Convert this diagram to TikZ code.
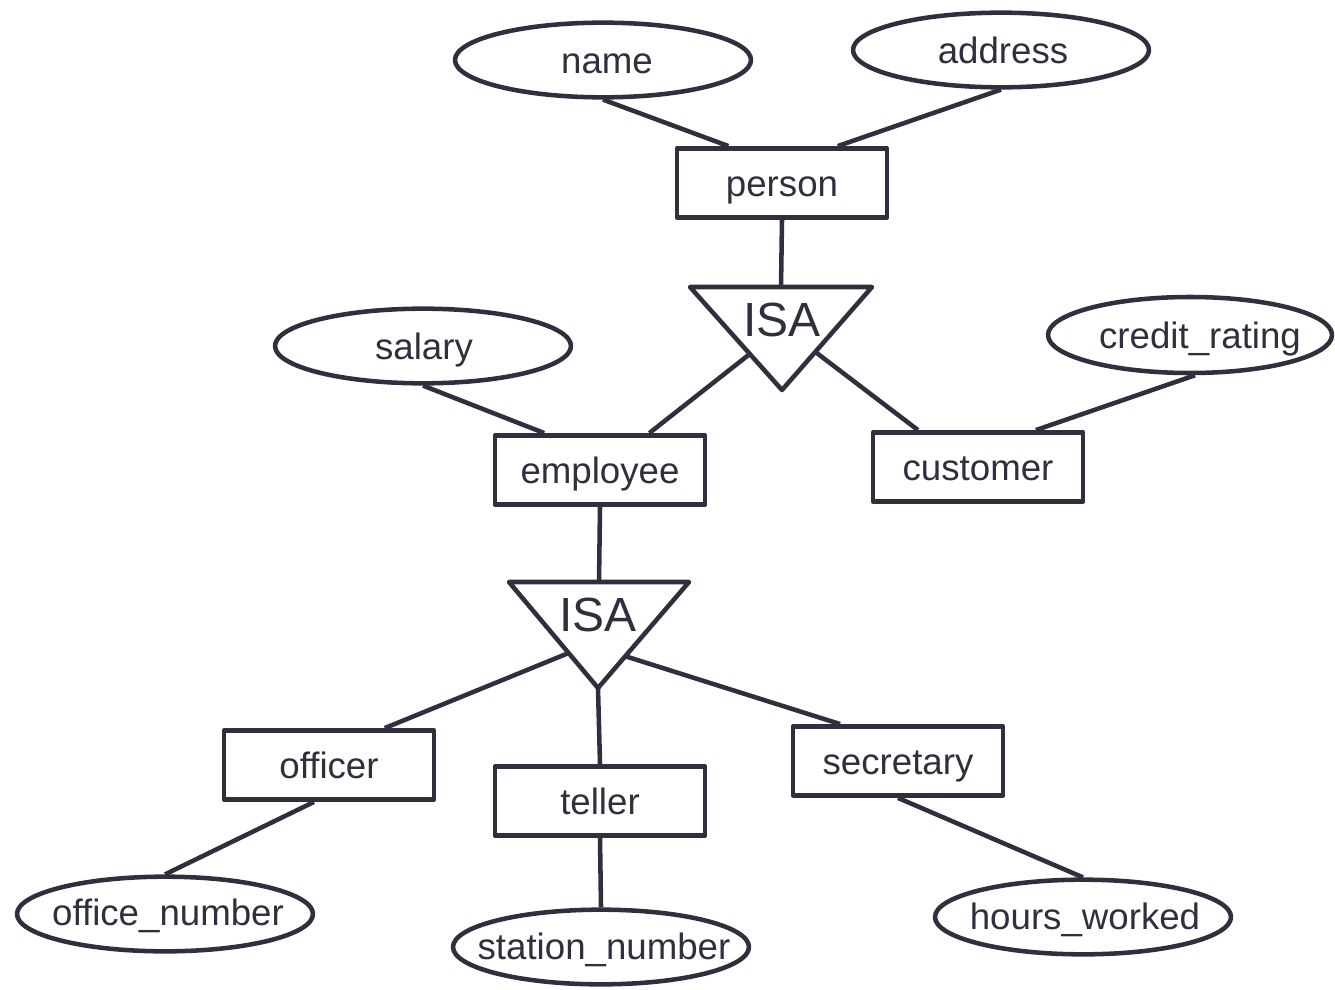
\documentclass[tikz,border=0pt]{standalone}
\usepackage{fontspec}
\setmainfont{Liberation Sans}
\usetikzlibrary{shapes.geometric,calc}
\definecolor{ink}{HTML}{2E303D}
\begin{document}
\begin{tikzpicture}[x=0.75pt,y=-0.75pt,
  line join=round,
  lbl/.style={text=ink,font=\fontsize{27.5}{33}\selectfont,inner sep=0pt,text height=19.7pt,text depth=0pt},
  ent/.style={draw=ink,line width=3.4pt,rectangle,minimum width=157.5pt,minimum height=52pt,inner sep=0pt,text=ink,font=\fontsize{27.5}{33}\selectfont,text height=19.7pt,text depth=0pt},
  attr/.style={draw=ink,line width=3.4pt,ellipse,minimum width=222pt,minimum height=56pt,inner sep=0pt},
  isatext/.style={text=ink,font=\fontsize{36}{43}\selectfont,inner sep=0pt},
  conn/.style={draw=ink,line width=3.4pt}]
\useasboundingbox (0,0) rectangle (1335,989);
% attributes
\node[attr] (name) at (603,60) {};
\node[lbl] at (607,60) {name};
\node[attr] (address) at (1001,50) {};
\node[lbl] at (1003,50) {address};
\node[attr] (salary) at (423,346) {};
\node[lbl] at (424,346) {salary};
\node[attr,minimum width=213pt,minimum height=57pt] (credit) at (1190,335) {};
\node[lbl] at (1200,335) {credit\_rating};
\node[attr] (officenum) at (165,914) {};
\node[lbl] at (168,912) {office\_number};
\node[attr] (station) at (601,947) {};
\node[lbl] at (604,946) {station\_number};
\node[attr] (hours) at (1083,917) {};
\node[lbl] at (1085,916) {hours\_worked};
% entities
\node[ent] (person) at (782,183) {person};
\node[ent] (employee) at (600,470) {employee};
\node[ent] (customer) at (978,467) {customer};
\node[ent] (officer) at (329,765) {officer};
\node[ent] (teller) at (600,801) {teller};
\node[ent] (secretary) at (898,761) {secretary};
% ISA triangles
\coordinate (isaAtl) at (690,287);
\coordinate (isaAtr) at (872,287);
\coordinate (isaAb) at (782,390);
\draw[conn] (isaAtl) -- (isaAtr) -- (isaAb) -- cycle;
\node[isatext] (isaA) at (782,320) {ISA};
\coordinate (isaAtop) at ($(isaAtl)!0.5!(isaAtr)$);
\coordinate (isaAl) at ($(isaAtl)!0.65!(isaAb)$);
\coordinate (isaAr) at ($(isaAtr)!0.63!(isaAb)$);
\coordinate (isaBtl) at (509,582);
\coordinate (isaBtr) at (689,582);
\coordinate (isaBb) at (598,688);
\draw[conn] (isaBtl) -- (isaBtr) -- (isaBb) -- cycle;
\node[isatext] (isaB) at (598,615) {ISA};
\coordinate (isaBtop) at ($(isaBtl)!0.5!(isaBtr)$);
\coordinate (isaBl) at ($(isaBtl)!0.67!(isaBb)$);
\coordinate (isaBr) at ($(isaBtr)!0.70!(isaBb)$);
% connectors
\draw[conn] (name.south) -- ($(person.north west)!0.25!(person.north east)$);
\draw[conn] (address.south) -- ($(person.north west)!0.76!(person.north east)$);
\draw[conn] (person.south) -- (isaAtop);
\draw[conn] (isaAl) -- ($(employee.north west)!0.73!(employee.north east)$);
\draw[conn] (isaAr) -- ($(customer.north west)!0.22!(customer.north east)$);
\draw[conn] (salary.south) -- ($(employee.north west)!0.24!(employee.north east)$);
\draw[conn] ($(credit.south)+(5,0)$) -- ($(customer.north west)!0.77!(customer.north east)$);
\draw[conn] (employee.south) -- (isaBtop);
\draw[conn] (isaBl) -- ($(officer.north west)!0.76!(officer.north east)$);
\draw[conn] (isaBb) -- (teller.north);
\draw[conn] (isaBr) -- ($(secretary.north west)!0.23!(secretary.north east)$);
\draw[conn] ($(officer.south west)!0.43!(officer.south east)$) -- (officenum.north);
\draw[conn] (teller.south) -- (station.north);
\draw[conn] (secretary.south) -- (hours.north);
\end{tikzpicture}
\end{document}
